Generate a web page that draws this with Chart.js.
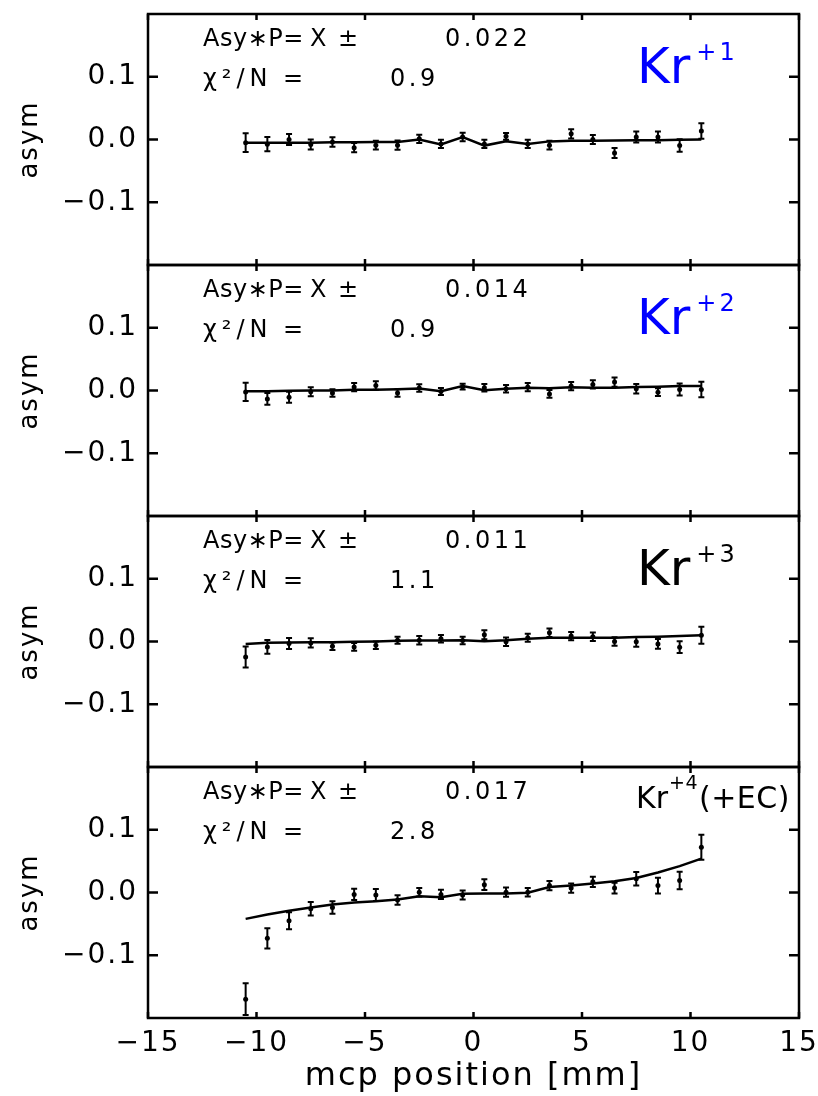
<!DOCTYPE html>
<html>
<head>
<meta charset="utf-8">
<script src="https://cdn.jsdelivr.net/npm/chart.js@4.4.1/dist/chart.umd.min.js"></script>
<style>
  body { margin: 0; background: #fff; width: 818px; height: 1096px; position: relative; overflow: hidden; }
  canvas { position: absolute; left: 0; }
</style>
</head>
<body>
<script>
// mcp positions of the bins [mm]
const positions = [-10.5, -9.5, -8.5, -7.5, -6.5, -5.5, -4.5, -3.5, -2.5, -1.5, -0.5,
                   0.5, 1.5, 2.5, 3.5, 4.5, 5.5, 6.5, 7.5, 8.5, 9.5, 10.5]
const xTicks = [-15, -10, -5, 0, 5, 10, 15]
const yTicks = [-0.1, 0, 0.1]

// Kr+1
const asym1 = [-0.005, -0.0075, 0.0, -0.008, -0.004, -0.013, -0.009, -0.009, 0.001, -0.007, 0.004,
               -0.007, 0.005, -0.007, -0.009, 0.009, 0.0, -0.0215, 0.004, 0.004, -0.0097, 0.0134]
const err1 = [0.0148, 0.0113, 0.0089, 0.0081, 0.0075, 0.0075, 0.0070, 0.0073, 0.0067, 0.0067, 0.0067,
              0.0067, 0.0054, 0.0067, 0.0070, 0.0075, 0.0073, 0.0081, 0.0086, 0.0089, 0.0099, 0.0124]
const fit1 = [-0.005, -0.005, -0.005, -0.005, -0.0045, -0.0045, -0.004, -0.004, 0.0, -0.008, 0.004,
              -0.0097, -0.003, -0.007, -0.003, -0.002, -0.002, -0.0015, -0.001, -0.001, -0.0005, 0.0]

// Kr+2
const asym2 = [-0.0022, -0.0134, -0.0108, -0.002, -0.004, 0.0054, 0.008, -0.004, 0.004, -0.0016, 0.006,
               0.0043, 0.0027, 0.0054, -0.0054, 0.007, 0.0097, 0.0134, 0.0027, -0.0027, 0.0016, 0.0016]
const err2 = [0.0145, 0.0094, 0.0089, 0.0073, 0.0059, 0.0067, 0.0067, 0.0059, 0.0059, 0.0054, 0.0046,
              0.0059, 0.0059, 0.0067, 0.0062, 0.0067, 0.0067, 0.0075, 0.0075, 0.0062, 0.0094, 0.0124]
const fit2 = [-0.001, -0.001, -0.0005, 0.0, 0.0, 0.001, 0.001, 0.002, 0.003, -0.001, 0.007,
              0.0005, 0.0027, 0.0043, 0.0036, 0.005, 0.0043, 0.0043, 0.0054, 0.006, 0.007, 0.007]

// Kr+3
const asym3 = [-0.0247, -0.0086, -0.0032, -0.0022, -0.0075, -0.0086, -0.006, 0.002, 0.002, 0.0043, 0.0016,
               0.0108, -0.0005, 0.006, 0.014, 0.0086, 0.0075, 0.0, -0.0005, -0.0038, -0.009, 0.010]
const err3 = [0.0169, 0.0108, 0.0086, 0.0073, 0.0059, 0.0062, 0.0059, 0.0054, 0.0067, 0.0059, 0.0059,
              0.0073, 0.0067, 0.0065, 0.0067, 0.0067, 0.0067, 0.0067, 0.0078, 0.0078, 0.0094, 0.0134]
const fit3 = [-0.0038, -0.002, -0.0016, -0.001, -0.001, -0.0005, 0.0, 0.001, 0.0016, 0.0016, 0.002,
              0.0005, 0.002, 0.0043, 0.006, 0.006, 0.006, 0.006, 0.007, 0.0075, 0.0086, 0.010]

// Kr+4 (+EC)
const asym4 = [-0.17, -0.073, -0.045, -0.026, -0.024, -0.003, -0.004, -0.012, 0.0005, -0.003, -0.004,
               0.0124, 0.0005, 0.0005, 0.011, 0.007, 0.017, 0.007, 0.022, 0.011, 0.019, 0.072]
const err4 = [0.0253, 0.0161, 0.0134, 0.0108, 0.0099, 0.0091, 0.0094, 0.0075, 0.0067, 0.0075, 0.0073,
              0.0086, 0.0073, 0.0067, 0.0073, 0.0075, 0.0081, 0.0086, 0.0108, 0.0126, 0.014, 0.0199]
const fit4 = [-0.042, -0.035, -0.029, -0.024, -0.019, -0.016, -0.014, -0.011, -0.006, -0.0075, -0.002,
              -0.0016, -0.0016, -0.0005, 0.0086, 0.011, 0.0145, 0.018, 0.023, 0.032, 0.042, 0.054]

const asyErrors = ["0.022", "0.014", "0.011", "0.017"]
const chiValues = ["0.9", "0.9", "1.1", "2.8"]
const charges = ["+1", "+2", "+3", "+4"]

const PANEL_TOP = 14
const PANEL_H = 251
const MARGIN = 40
const FONT = '"DejaVu Sans", sans-serif'

const fmtMinus = (s) => s.replace("-", "\u2212")

// wider letter spacing for the axis text
const axisSpacing = {
  id: "axisSpacing",
  beforeDraw(chart) { chart.ctx.letterSpacing = "2px" },
  beforeDatasetsDraw(chart) { chart.ctx.letterSpacing = "0px" },
}

// box around the plot area with inward ticks
const frame = {
  id: "frame",
  afterDatasetsDraw(chart) {
    const { ctx, chartArea: a, scales: { x, y } } = chart
    ctx.save()
    ctx.strokeStyle = "#000"
    ctx.lineWidth = 2.5
    ctx.strokeRect(a.left, a.top, a.right - a.left, a.bottom - a.top)
    ctx.beginPath()
    xTicks.forEach((v) => {
      const px = x.getPixelForValue(v)
      ctx.moveTo(px, a.top); ctx.lineTo(px, a.top + 6)
      ctx.moveTo(px, a.bottom); ctx.lineTo(px, a.bottom - 6)
    })
    yTicks.forEach((v) => {
      const py = y.getPixelForValue(v)
      ctx.moveTo(a.left, py); ctx.lineTo(a.left + 10, py)
      ctx.moveTo(a.right, py); ctx.lineTo(a.right - 10, py)
    })
    ctx.stroke()
    ctx.restore()
  },
}

// vertical error bars with small caps
const errorBars = {
  id: "errorBars",
  afterDatasetsDraw(chart) {
    const { ctx, scales: { y } } = chart
    chart.data.datasets.forEach((ds, di) => {
      if (!ds.errors) return
      const meta = chart.getDatasetMeta(di)
      ctx.save()
      ctx.strokeStyle = "#000"
      ctx.lineWidth = 2
      ctx.beginPath()
      meta.data.forEach((pt, i) => {
        const v = ds.data[i].y
        const e = ds.errors[i]
        const y1 = y.getPixelForValue(v + e)
        const y2 = y.getPixelForValue(v - e)
        ctx.moveTo(pt.x, y1); ctx.lineTo(pt.x, y2)
        ctx.moveTo(pt.x - 3, y1); ctx.lineTo(pt.x + 3, y1)
        ctx.moveTo(pt.x - 3, y2); ctx.lineTo(pt.x + 3, y2)
      })
      ctx.stroke()
      ctx.restore()
    })
  },
}

// fit result text and ion label
const panelText = {
  id: "panelText",
  afterDraw(chart, args, opts) {
    const { ctx, chartArea: a } = chart
    const L = a.left
    const T = a.top
    const put = (text, x, y, spacing) => {
      ctx.letterSpacing = spacing + "px"
      ctx.fillText(text, x, y)
    }
    ctx.save()
    ctx.fillStyle = "#000"
    ctx.textAlign = "left"
    ctx.textBaseline = "alphabetic"
    ctx.font = "24px " + FONT
    put("Asy\u2217P=", L + 55, T + 32, 0.5)
    put("X", L + 162, T + 32, 0)
    put("\u00b1", L + 190, T + 32, 0)
    put(opts.asy, L + 297, T + 32, 3.5)
    put("\u03c7\u00b2/N", L + 55, T + 72, 5)
    put("=", L + 135, T + 72, 0)
    put(opts.chi, L + 242, T + 72, 3.5)

    ctx.fillStyle = opts.color
    if (opts.note) {
      ctx.font = "30px " + FONT
      put("Kr", L + 488, T + 41, 0)
      let w = ctx.measureText("Kr").width
      ctx.font = "19px " + FONT
      put(opts.charge, L + 488 + w + 1, T + 22, 0.5)
      w += ctx.measureText(opts.charge).width
      ctx.font = "30px " + FONT
      put(opts.note, L + 488 + w + 2, T + 41, 0.5)
    } else {
      ctx.font = "50px " + FONT
      put("Kr", L + 489, T + 69, 0)
      const w = ctx.measureText("Kr").width
      ctx.font = "24px " + FONT
      put(opts.charge, L + 489 + w + 6, T + 46, 3)
    }
    ctx.restore()
  },
}

const panels = [
  { asym: asym1, err: err1, fit: fit1, color: "#0000ff", note: "" },
  { asym: asym2, err: err2, fit: fit2, color: "#0000ff", note: "" },
  { asym: asym3, err: err3, fit: fit3, color: "#000000", note: "" },
  { asym: asym4, err: err4, fit: fit4, color: "#000000", note: "(+EC)" },
]

panels.forEach((p, i) => {
  const last = i === panels.length - 1
  const top = PANEL_TOP + PANEL_H * i - MARGIN
  const height = last ? 1096 - top : PANEL_H + 2 * MARGIN

  const canvas = document.createElement("canvas")
  canvas.width = 818
  canvas.height = height
  canvas.style.top = top + "px"
  document.body.appendChild(canvas)

  new Chart(canvas, {
    type: "scatter",
    data: {
      datasets: [
        {
          type: "line",
          data: positions.map((x, k) => ({ x, y: p.fit[k] })),
          borderColor: "#000",
          borderWidth: 2.5,
          pointRadius: 0,
          tension: 0,
          fill: false,
        },
        {
          data: positions.map((x, k) => ({ x, y: p.asym[k] })),
          errors: p.err,
          pointRadius: 2.5,
          pointStyle: "circle",
          backgroundColor: "#000",
          borderColor: "#000",
          borderWidth: 0,
        },
      ],
    },
    options: {
      responsive: false,
      animation: false,
      events: [],
      layout: { padding: { top: MARGIN, bottom: last ? 0 : MARGIN, left: 0, right: 19 } },
      plugins: {
        legend: { display: false },
        tooltip: { enabled: false },
        panelText: { asy: asyErrors[i], chi: chiValues[i], charge: charges[i], color: p.color, note: p.note },
      },
      scales: {
        x: {
          type: "linear",
          min: -15,
          max: 15,
          display: last,
          afterBuildTicks: (s) => { s.ticks = xTicks.map((v) => ({ value: v })) },
          afterFit: (s) => {
            s.paddingLeft = 0
            s.paddingRight = 0
            if (last) s.height = 78
          },
          grid: { display: false, drawTicks: false },
          border: { display: false },
          ticks: {
            autoSkip: false,
            maxRotation: 0,
            padding: 9,
            color: "#000",
            font: { family: FONT, size: 28 },
            callback: (v) => fmtMinus(String(v)),
          },
          title: {
            display: true,
            text: "mcp position [mm]",
            color: "#000",
            font: { family: FONT, size: 32 },
            padding: { top: 0, bottom: 0 },
          },
        },
        y: {
          type: "linear",
          min: -0.2,
          max: 0.2,
          afterBuildTicks: (s) => { s.ticks = yTicks.map((v) => ({ value: v })) },
          afterFit: (s) => { s.width = 148 },
          grid: { display: false, drawTicks: false },
          border: { display: false },
          ticks: {
            padding: 10,
            color: "#000",
            font: { family: FONT, size: 28 },
            callback: (v) => fmtMinus(v.toFixed(1)),
          },
          title: {
            display: true,
            text: "asym",
            color: "#000",
            font: { family: FONT, size: 26 },
            padding: { top: 15, bottom: 0 },
          },
        },
      },
    },
    plugins: [axisSpacing, errorBars, frame, panelText],
  })
})
</script>
</body>
</html>
